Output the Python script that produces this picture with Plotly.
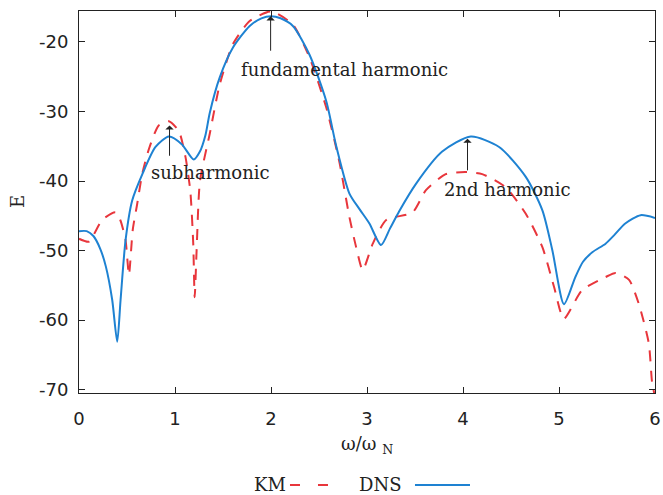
import plotly.graph_objects as go

# DNS (blue solid)
dns_x = [0, 0.08, 0.15, 0.22, 0.28, 0.346, 0.398, 0.433, 0.485, 0.554, 0.66, 0.797, 0.936, 1.07, 1.195,
         1.258, 1.317, 1.362, 1.466, 1.604, 1.778, 1.9, 2.0, 2.1, 2.228, 2.40, 2.575, 2.68, 2.817, 2.92,
         3.025, 3.146, 3.24, 3.337, 3.51, 3.78, 4.082, 4.376, 4.654, 4.827, 4.93, 5.052, 5.17,
         5.25, 5.35, 5.485, 5.58, 5.69, 5.85, 6.0]
dns_y = [-47.2, -47.2, -47.9, -49.7, -52.3, -57.1, -63.1, -57.1, -48.5, -42.8, -39.0, -35.1, -33.6, -34.7, -36.9,
         -35.8, -33.4, -30.2, -25.1, -20.8, -17.7, -16.6, -16.3, -16.6, -17.7, -21.8, -28.5, -35.0, -41.8, -44.0,
         -46.1, -49.2, -46.8, -44.3, -40.4, -35.8, -33.6, -35.1, -39.4, -44.2, -49.9, -57.7, -53.8,
         -51.6, -50.2, -49.0, -47.7, -46.1, -44.9, -45.3]

# KM (red dashed)
km_x = [0, 0.104, 0.24, 0.38, 0.43, 0.485, 0.52, 0.56, 0.606, 0.658, 0.728, 0.83, 0.936, 1.04,
        1.11, 1.16, 1.19, 1.205, 1.225, 1.26, 1.362, 1.466, 1.604, 1.778, 2.0, 2.228, 2.40, 2.575,
        2.713, 2.817, 2.887, 2.955, 3.06, 3.2, 3.475, 3.614, 3.82, 4.03, 4.20, 4.445, 4.654, 4.827,
        4.948, 5.05, 5.24, 5.485, 5.59, 5.73, 5.83, 5.935, 5.97, 6.0]
km_y = [-48.3, -48.7, -45.6, -44.5, -45.6, -48.5, -53.5, -47.0, -43.3, -39.0, -35.4, -32.0, -31.4, -32.8,
        -36.6, -41.5, -49.0, -56.7, -50.0, -40.0, -33.2, -26.1, -20.3, -17.0, -15.6, -17.5, -22.2, -29.4,
        -37.3, -45.2, -49.5, -52.8, -49.0, -45.6, -44.5, -41.3, -39.0, -38.7, -39.0, -40.9, -44.7, -49.5,
        -55.2, -59.8, -55.7, -53.8, -53.2, -54.2, -57.6, -63.3, -69.0, -71.0]

x_ticks = [0, 1, 2, 3, 4, 5, 6]
x_tick_text = ["0", "1", "2", "3", "4", "5", "6"]
y_ticks = [-70, -60, -50, -40, -30, -20]
y_tick_text = ["-70", "-60", "-50", "-40", "-30", "-20"]

# annotations: label, arrow tip (x, y), arrow tail y, text position
labels = ["subharmonic", "fundamental harmonic", "2nd harmonic"]
arrow_x = [0.943, 1.996, 4.047]
arrow_tip_y = [-32.0, -16.3, -33.9]
arrow_tail_y = [-37.8, -22.7, -39.9]
text_x = [1.367, 2.765, 4.463]
text_y = [-38.8, -23.9, -41.2]

BLUE = "#1e82d2"
RED = "#e8363c"
INK = "#222222"
SERIF = "DejaVu Serif"
SANS = "DejaVu Sans"

fig = go.Figure()
fig.add_trace(go.Scatter(x=km_x, y=km_y, mode="lines", name="KM",
                         line=dict(color=RED, width=2, dash="11px,9px", shape="spline", smoothing=0.6),
                         showlegend=False))
fig.add_trace(go.Scatter(x=dns_x, y=dns_y, mode="lines", name="DNS",
                         line=dict(color=BLUE, width=2, shape="spline", smoothing=0.7),
                         showlegend=False))

for lab, ax_, tip, tail, tx, ty in zip(labels, arrow_x, arrow_tip_y, arrow_tail_y, text_x, text_y):
    fig.add_annotation(x=ax_, y=tip, ax=ax_, ay=tail, axref="x", ayref="y", text=" ",
                       showarrow=True, arrowhead=1, arrowsize=1.4, arrowwidth=1, arrowcolor=INK)
    fig.add_annotation(x=tx, y=ty, text=lab, showarrow=False, xanchor="center", yanchor="middle",
                       font=dict(family=SERIF, size=18, color=INK))

# axis titles
fig.add_annotation(xref="paper", yref="paper", x=0.5, y=-0.135, text="ω/ω <sub>N</sub>",
                   showarrow=False, xanchor="center", yanchor="middle",
                   font=dict(family=SERIF, size=18, color=INK))
fig.add_annotation(xref="paper", yref="paper", x=-0.1076, y=0.5, text="E", textangle=-90,
                   showarrow=False, xanchor="center", yanchor="middle",
                   font=dict(family=SERIF, size=18, color=INK))

# manual legend (text left of sample)
leg_y = -0.2408
fig.add_annotation(xref="paper", yref="paper", x=0.3628, y=leg_y, text="KM", showarrow=False,
                   xanchor="right", yanchor="middle", font=dict(family=SERIF, size=18, color=INK))
fig.add_shape(type="line", xref="paper", yref="paper", x0=0.3663, x1=0.4497, y0=leg_y, y1=leg_y,
              line=dict(color=RED, width=2, dash="10px,18px"))
fig.add_annotation(xref="paper", yref="paper", x=0.4826, y=leg_y, text="DNS", showarrow=False,
                   xanchor="left", yanchor="middle", font=dict(family=SERIF, size=18, color=INK))
fig.add_shape(type="line", xref="paper", yref="paper", x0=0.5833, x1=0.6788, y0=leg_y, y1=leg_y,
              line=dict(color=BLUE, width=2))

fig.update_layout(
    width=663, height=495,
    margin=dict(l=79, r=8, t=11, b=102),
    paper_bgcolor="white", plot_bgcolor="white",
    showlegend=False,
)
fig.update_xaxes(range=[0, 6], tickvals=x_ticks, ticktext=x_tick_text, ticks="inside", ticklen=6,
                 tickcolor=INK, showline=True, linecolor=INK, linewidth=1, mirror="ticks",
                 showgrid=False, zeroline=False, automargin=False,
                 tickfont=dict(family=SANS, size=18, color=INK), ticklabelstandoff=9)
fig.update_yaxes(range=[-70.47, -15.55], tickvals=y_ticks, ticktext=y_tick_text, ticks="inside",
                 ticklen=6, tickcolor=INK, showline=True, linecolor=INK, linewidth=1, mirror="ticks",
                 showgrid=False, zeroline=False, automargin=False,
                 tickfont=dict(family=SANS, size=18, color=INK), ticklabelstandoff=6)

fig.write_html("out.html")
